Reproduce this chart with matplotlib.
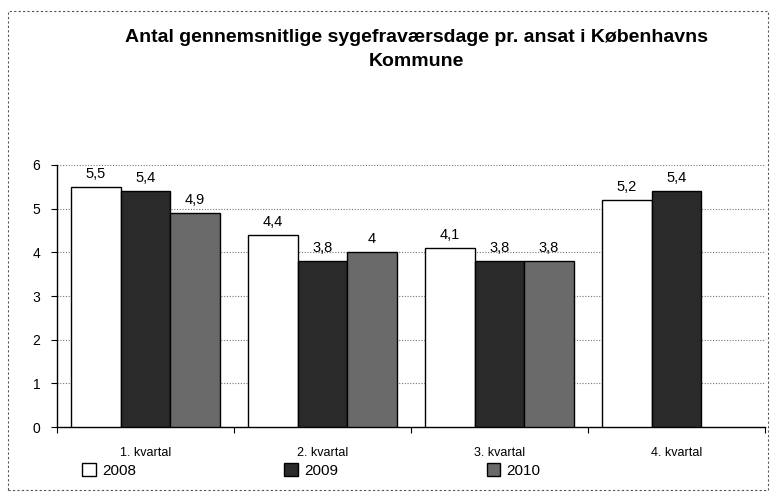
import numpy as np
import matplotlib
matplotlib.use("Agg")
import matplotlib.pyplot as plt
from matplotlib.patches import Rectangle

plt.rcParams['font.family'] = ['Liberation Sans', 'DejaVu Sans']

categories = ["1. kvartal", "2. kvartal", "3. kvartal", "4. kvartal"]
series_names = ["2008", "2009", "2010"]
v2008 = [5.5, 4.4, 4.1, 5.2]
v2009 = [5.4, 3.8, 3.8, 5.4]
v2010 = [4.9, 4.0, 3.8, np.nan]
labels2008 = ["5,5", "4,4", "4,1", "5,2"]
labels2009 = ["5,4", "3,8", "3,8", "5,4"]
labels2010 = ["4,9", "4", "3,8", ""]
yticks = [0, 1, 2, 3, 4, 5, 6]
title = "Antal gennemsnitlige sygefraværsdage pr. ansat i Københavns\nKommune"

fig = plt.figure(figsize=(7.71, 4.95), dpi=100)
ax = fig.add_axes([0.074, 0.137, 0.918, 0.530])

x = np.arange(len(categories))
w = 0.28
colors = ["white", "#2a2a2a", "#6a6a6a"]
all_vals = [v2008, v2009, v2010]
all_labels = [labels2008, labels2009, labels2010]
handles = []
for i, (vals, labs) in enumerate(zip(all_vals, all_labels)):
    pos = x + (i - 1) * w
    bars = ax.bar(pos, vals, width=w, color=colors[i], edgecolor="black",
                  linewidth=1.0, zorder=3, label=series_names[i])
    handles.append(bars)
    for p, v, t in zip(pos, vals, labs):
        if t:
            ax.text(p, v + 0.14, t, ha="center", va="bottom", fontsize=10.5, zorder=4)

ax.set_xlim(-0.5, 3.5)
ax.set_ylim(0, 6)
ax.set_yticks(yticks)
ax.set_yticklabels([str(t) for t in yticks], fontsize=10)
ax.yaxis.grid(True, linestyle=(0, (1, 1.5)), color="#777777", linewidth=0.8, zorder=0)
ax.set_xticks(np.arange(-0.5, 4.0, 1.0))
ax.set_xticklabels([])
ax.set_xticks(x, minor=True)
ax.set_xticklabels(categories, minor=True, fontsize=9)
ax.tick_params(axis="x", which="minor", length=0, pad=14)
ax.tick_params(axis="x", which="major", length=4, direction="out")
ax.tick_params(axis="y", length=4, direction="out", pad=8)
for s in ["top", "right"]:
    ax.spines[s].set_visible(False)
ax.spines["left"].set_linewidth(1.0)
ax.spines["bottom"].set_linewidth(1.0)

fig.text(0.54, 0.900, title, ha="center", va="center", fontsize=14,
         fontweight="bold", linespacing=1.6)

leg = fig.legend(handles=handles, labels=series_names, loc="center left",
                 bbox_to_anchor=(0.099, 0.05), ncol=3, frameon=False,
                 fontsize=11, handlelength=0.9, handleheight=0.9,
                 handletextpad=0.4, columnspacing=9.7, borderaxespad=0)

fig.patches.append(Rectangle((0.011, 0.01), 0.985, 0.968, transform=fig.transFigure,
                             fill=False, edgecolor="#555555", linewidth=0.8,
                             linestyle=(0, (2, 2))))

fig.savefig("out.png", dpi=100)
